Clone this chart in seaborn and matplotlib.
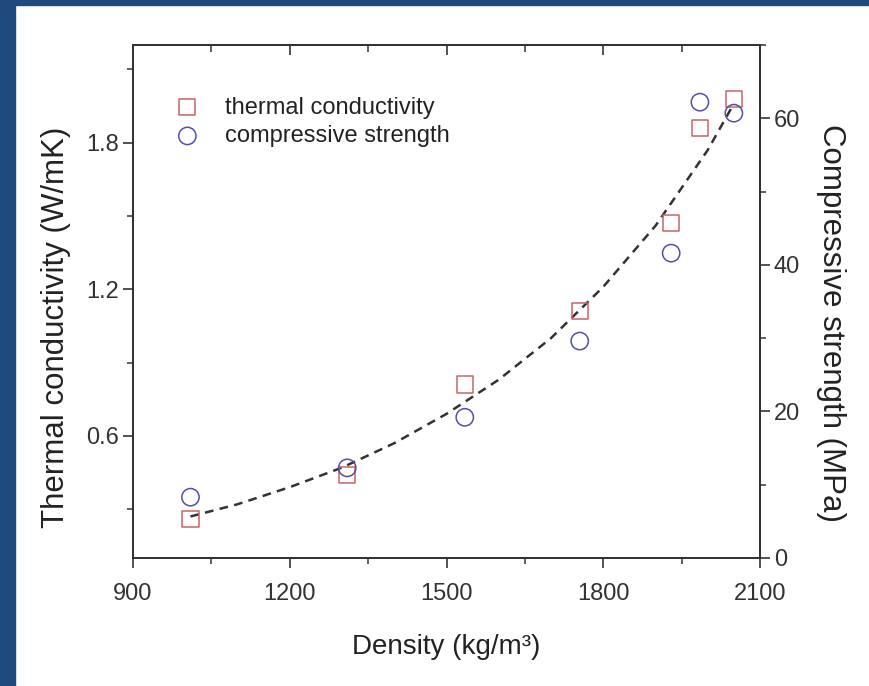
import matplotlib
matplotlib.use("Agg")
import pandas as pd
import matplotlib.pyplot as plt
import seaborn as sns
from matplotlib.patches import Rectangle
from matplotlib.ticker import MultipleLocator

# values
density = [1010, 1310, 1535, 1755, 1930, 1985, 2050]
thermal_conductivity = [0.26, 0.44, 0.81, 1.11, 1.47, 1.86, 1.98]
compressive_strength = [8.3, 12.3, 19.2, 29.6, 41.6, 62.2, 60.7]

# dashed fit curve
fit_density = [1010, 1100, 1200, 1300, 1400, 1500, 1600, 1700, 1800, 1900, 2000, 2050]
fit_conductivity = [0.27, 0.32, 0.39, 0.47, 0.57, 0.69, 0.83, 1.00, 1.21, 1.46, 1.77, 1.96]

sns.set_style("ticks")
plt.rcParams['font.family'] = ['Liberation Sans', 'DejaVu Sans']
plt.rcParams['text.color'] = '#222222'
plt.rcParams['axes.labelcolor'] = '#222222'
plt.rcParams['xtick.color'] = '#333333'
plt.rcParams['ytick.color'] = '#333333'

red = '#c86464'
blue = '#5050aa'
ink = '#333333'

fig = plt.figure(figsize=(8.7, 6.86), dpi=100)
fig.patches.append(Rectangle((0, 0), 15 / 870, 1, transform=fig.transFigure, color='#1f4a7e', zorder=0))
fig.patches.append(Rectangle((0, 1 - 5 / 686), 1, 5 / 686, transform=fig.transFigure, color='#1f4a7e', zorder=0))

ax = fig.add_axes([133 / 870, 1 - 558 / 686, 627 / 870, 513 / 686])
ax2 = ax.twinx()

tc = pd.DataFrame({'density': density, 'value': thermal_conductivity})
cs = pd.DataFrame({'density': density, 'value': compressive_strength})
fit = pd.DataFrame({'density': fit_density, 'value': fit_conductivity})

sns.lineplot(data=fit, x='density', y='value', ax=ax, color=ink, linewidth=1.8,
             dashes=False, linestyle=(0, (3.5, 2.5)), zorder=2)
sns.scatterplot(data=tc, x='density', y='value', ax=ax, marker='s', s=135,
                facecolor='none', edgecolor=red, linewidth=1.1,
                label='thermal conductivity', zorder=3)
sns.scatterplot(data=cs, x='density', y='value', ax=ax2, marker='o', s=155,
                facecolor='none', edgecolor=blue, linewidth=1.1,
                label='compressive strength', zorder=3)

ax.set_xlim(900, 2100)
ax.set_ylim(0.1, 2.2)
ax2.set_ylim(0, 70)

ax.xaxis.set_major_locator(MultipleLocator(300))
ax.xaxis.set_minor_locator(MultipleLocator(150))
ax.yaxis.set_major_locator(MultipleLocator(0.6))
ax.yaxis.set_minor_locator(MultipleLocator(0.3))
ax2.yaxis.set_major_locator(MultipleLocator(20))
ax2.yaxis.set_minor_locator(MultipleLocator(10))

ax.set_xlabel('Density (kg/m³)', fontsize=20, labelpad=21)
ax.set_ylabel('Thermal conductivity (W/mK)', fontsize=22.5, va='center')
ax.yaxis.set_label_coords(-0.123, 0.45)
ax2.set_ylabel('Compressive strength (MPa)', fontsize=22.5, rotation=270, va='center')
ax2.yaxis.set_label_coords(1.114, 0.458)

for a in (ax, ax2):
    a.tick_params(which='major', direction='out', length=7, width=1.2, labelsize=17, pad=3)
    a.tick_params(which='minor', direction='out', length=4, width=1.1)
    for s in a.spines.values():
        s.set_visible(True)
        s.set_color(ink)
        s.set_linewidth(1.4)
ax.tick_params(axis='x', which='major', pad=11)
ax.tick_params(axis='y', right=False, which='both')
ax2.tick_params(axis='y', left=False, which='both')

top = ax.secondary_xaxis('top')
top.xaxis.set_major_locator(MultipleLocator(300))
top.xaxis.set_minor_locator(MultipleLocator(150))
top.tick_params(which='major', direction='in', length=7, width=1.2, labeltop=False)
top.tick_params(which='minor', direction='in', length=5, width=1.1)
top.spines['top'].set_color(ink)
top.spines['top'].set_linewidth(1.4)

h1, l1 = ax.get_legend_handles_labels()
h2, l2 = ax2.get_legend_handles_labels()
if ax2.get_legend() is not None:
    ax2.get_legend().remove()
ax.legend(h1 + h2, l1 + l2, loc='upper left', bbox_to_anchor=(0.034, 0.918),
          frameon=False, fontsize=17, handletextpad=0.6, labelspacing=0.28,
          borderaxespad=0)

fig.savefig('out.png', dpi=100)
